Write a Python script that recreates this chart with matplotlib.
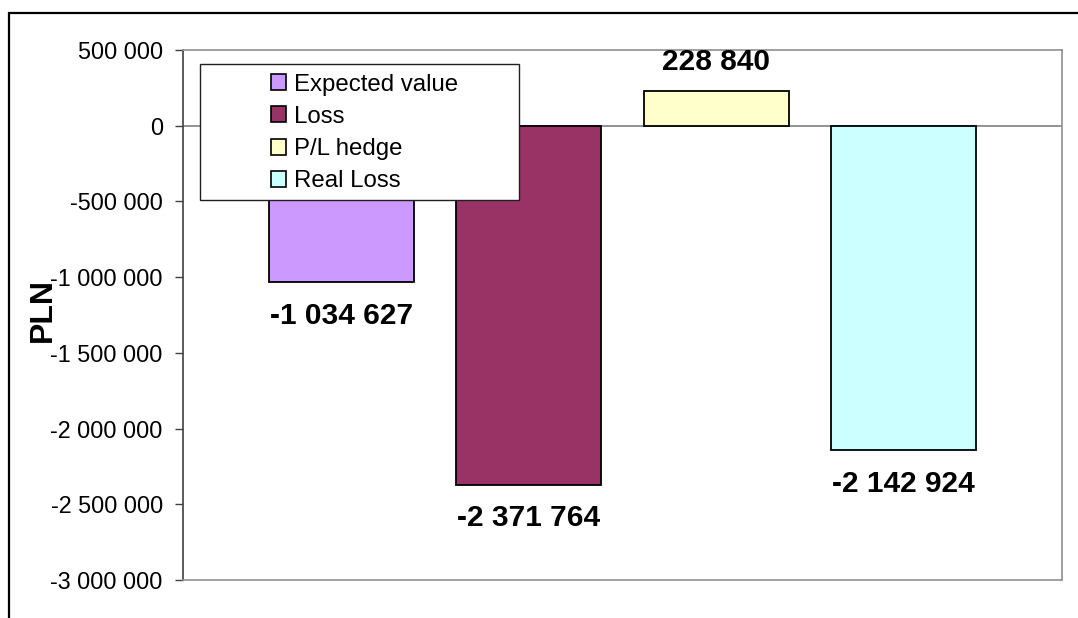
import matplotlib.pyplot as plt
from matplotlib.patches import Patch, Rectangle
from matplotlib.ticker import FuncFormatter, MultipleLocator

series = ['Expected value', 'Loss', 'P/L hedge', 'Real Loss']
values = [-1034627, -2371764, 228840, -2142924]
colors = ['#CC99FF', '#993366', '#FFFFCC', '#CCFFFF']

W, H = 1078, 618


def fx(px):
    return px / W


def fy(py):
    return 1 - py / H


plt.rcParams['font.family'] = ['Liberation Sans', 'DejaVu Sans']

fig = plt.figure(figsize=(W / 100, H / 100), dpi=100)
ax = fig.add_axes([fx(183), fy(580), fx(1062) - fx(183), fy(50) - fy(580)])

xs = list(range(len(values)))
bars = ax.bar(xs, values, width=0.775, color=colors, edgecolor='black', linewidth=1.3, zorder=3)

ax.set_xlim(-0.848, 3.848)
ax.set_ylim(-3000000, 500000)
ax.yaxis.set_major_locator(MultipleLocator(500000))
ax.yaxis.set_major_formatter(FuncFormatter(lambda v, p: f'{v:,.0f}'.replace(',', ' ')))
ax.axhline(0, color='#808080', linewidth=1.2, zorder=2)
ax.set_xticks([])
ax.tick_params(axis='y', direction='out', length=6, width=1, color='#404040',
               labelsize=16.8, pad=8.5)

for side in ['top', 'right', 'bottom']:
    ax.spines[side].set_color('#909090')
    ax.spines[side].set_linewidth(1.2)
ax.spines['left'].set_color('#404040')
ax.spines['left'].set_linewidth(1.2)

for b, v in zip(bars, values):
    label = f'{v:,.0f}'.replace(',', ' ')
    cx = b.get_x() + b.get_width() / 2
    if v >= 0:
        ax.annotate(label, (cx, v), xytext=(0, 11), textcoords='offset points',
                    ha='center', va='bottom', fontsize=21.5, fontweight='bold')
    else:
        ax.annotate(label, (cx, v), xytext=(0, -14), textcoords='offset points',
                    ha='center', va='top', fontsize=21.5, fontweight='bold')

fig.text(fx(43), fy(310), 'PLN', rotation=90, ha='center', va='center',
         fontsize=23, fontweight='bold')

# legend box
fig.patches.append(Rectangle((fx(200), fy(200)), fx(519) - fx(200), fy(64) - fy(200),
                             transform=fig.transFigure, facecolor='white',
                             edgecolor='#202020', linewidth=1, zorder=5))
handles = [Patch(facecolor=c, edgecolor='black', linewidth=1.2) for c in colors]
fig.legend(handles, series, loc='upper left', bbox_to_anchor=(fx(254), fy(57)),
           frameon=False, fontsize=17.3, handlelength=0.65, handleheight=0.65,
           handletextpad=0.3, labelspacing=0.42, borderpad=0.2)

# outer chart frame (right and bottom edges are cut off)
fig.patches.append(Rectangle((fx(9), fy(640)), fx(1100) - fx(9), fy(13) - fy(640),
                             transform=fig.transFigure, facecolor='none',
                             edgecolor='black', linewidth=1.6, clip_on=False))

fig.savefig('out.png', dpi=100)
